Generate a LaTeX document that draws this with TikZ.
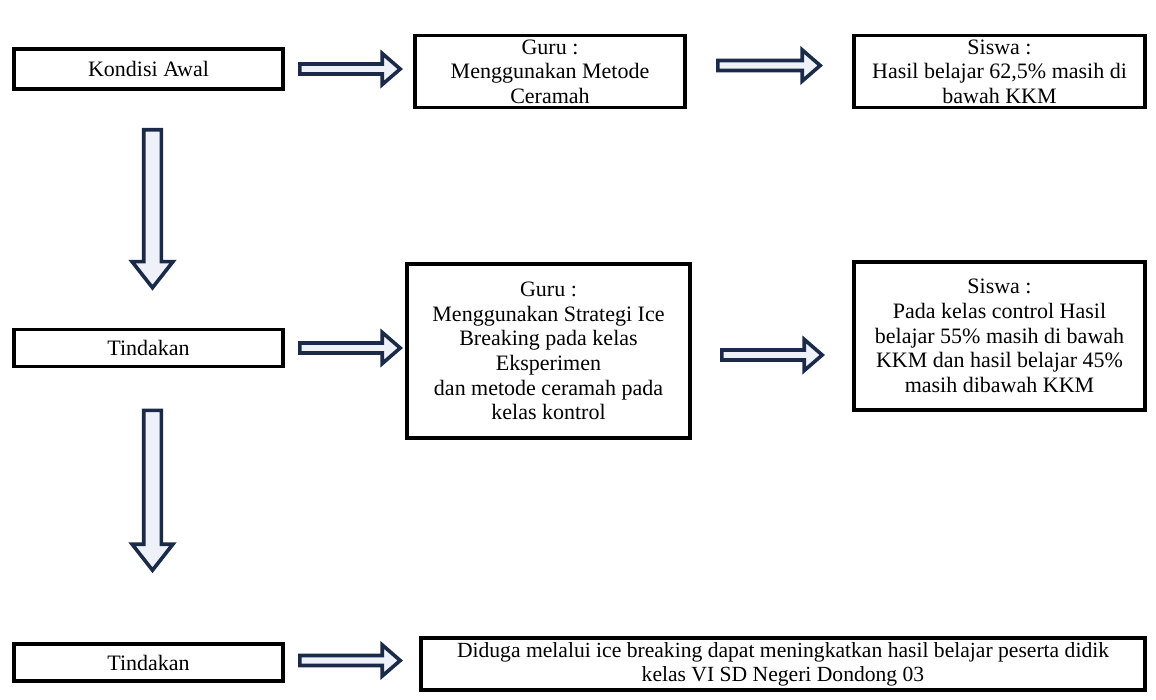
\documentclass[tikz,border=0pt]{standalone}
\usepackage{fontspec}
\setmainfont{Liberation Serif}
\usepackage{xcolor}
\usepackage{tikz}
\usetikzlibrary{calc, positioning}

\definecolor{arrnavy}{HTML}{1C2A4A}
\definecolor{arrfill}{HTML}{EEF2F8}

% outlined block arrows between two points
\newcommand{\rblock}[2]{%
  \draw[blockarr] let \p1=#1, \p2=#2 in
    (\x1,\y1+2.5pt) -- (\x2-9pt,\y1+2.5pt) -- (\x2-9pt,\y1+7.8pt) -- (\x2,\y1)
    -- (\x2-9pt,\y1-7.8pt) -- (\x2-9pt,\y1-2.5pt) -- (\x1,\y1-2.5pt) -- cycle;}
\newcommand{\dblock}[2]{%
  \draw[blockarr] let \p1=#1, \p2=#2 in
    (\x1-4.4pt,\y1) -- (\x1-4.4pt,\y2+13pt) -- (\x1-10.2pt,\y2+13pt) -- (\x1,\y2)
    -- (\x1+10.2pt,\y2+13pt) -- (\x1+4.4pt,\y2+13pt) -- (\x1+4.4pt,\y1) -- cycle;}

\begin{document}
\begin{tikzpicture}[
    box/.style={draw, line width=1.8pt, align=center, inner sep=2pt,
      font=\fontsize{11}{12.3}\selectfont},
    wide/.style={box, minimum width=134.5pt},
    blockarr/.style={draw=arrnavy, fill=arrfill, line width=1.8pt, line join=miter}
]
\useasboundingbox (0,0) rectangle (578pt,-350pt);

% Left column
\node[wide, minimum height=20pt] (kondisi) at (74.25pt,-34.5pt) {Kondisi Awal};
\node[wide, minimum height=18.5pt] (tindakan) at (74.25pt,-174pt) {Tindakan};
\node[wide, minimum height=18.5pt] (tindakanb) at (74.25pt,-331.25pt) {Tindakan};

% Guru boxes
\node[box, minimum width=135pt, minimum height=34.5pt] (guru) at (275pt,-35.75pt)
  {Guru :\\Menggunakan  Metode\\Ceramah};
\node[box, minimum width=141.5pt, minimum height=87pt] (gurub) at (274.25pt,-175.5pt)
  {Guru :\\Menggunakan  Strategi Ice\\Breaking  pada kelas\\Eksperimen\\dan metode ceramah pada\\kelas kontrol};

% Siswa boxes
\node[box, minimum width=145.5pt, minimum height=34.5pt] (siswa) at (499.75pt,-35.75pt)
  {Siswa :\\Hasil belajar  62,5\% masih di\\bawah KKM};
\node[box, minimum width=145.5pt, minimum height=74pt] (siswab) at (499.75pt,-168pt)
  {Siswa :\\Pada kelas control Hasil\\belajar 55\% masih di bawah\\KKM dan hasil belajar 45\%\\masih dibawah KKM};

% Conclusion
\node[box, minimum width=362pt, minimum height=26pt, inner sep=1pt,
  font=\fontsize{10.8}{12}\selectfont] (duga) at (391.5pt,-332pt)
  {Diduga melalui ice breaking dapat meningkatkan hasil belajar peserta didik\\kelas VI SD Negeri Dondong 03};

% Block arrows
\rblock{([xshift=7.5pt]kondisi.east)}{([xshift=-6.5pt]guru.west)}
\rblock{([xshift=15.5pt,yshift=3pt]guru.east)}{([xshift=-16pt]siswa.west)}
\rblock{([xshift=7.5pt]tindakan.east)}{([xshift=-2.5pt]gurub.west)}
\rblock{([xshift=15pt,yshift=-2pt]gurub.east)}{([xshift=-15pt]siswab.west)}
\rblock{([xshift=7.5pt,yshift=1pt]tindakanb.east)}{([xshift=-9.5pt]duga.west)}
\dblock{([xshift=2pt,yshift=-19.5pt]kondisi.south)}{([yshift=20pt]tindakan.north)}
\dblock{([xshift=2pt,yshift=-21pt]tindakan.south)}{([yshift=36pt]tindakanb.north)}

\end{tikzpicture}
\end{document}
